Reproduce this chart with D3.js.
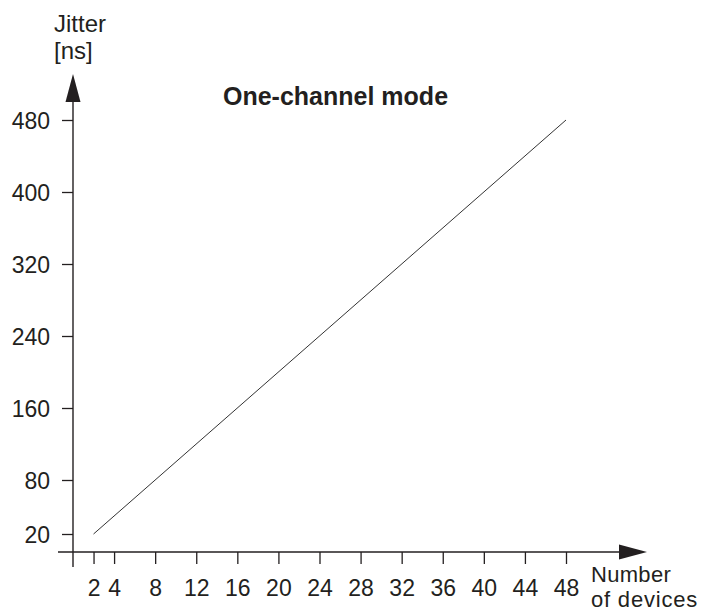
<!DOCTYPE html>
<html>
<head>
<meta charset="utf-8">
<script src="https://cdn.jsdelivr.net/npm/d3@7"></script>
<style>
  html, body { margin: 0; padding: 0; background: #fff; }
  svg { display: block; font-family: "Liberation Sans", Arial, Helvetica, sans-serif; }
</style>
</head>
<body>
<svg id="chart" width="710" height="615"></svg>
<script>
// ---- data ----
const devices = [2, 48];
const jitter = [20, 480];
const xTicks = [2, 4, 8, 12, 16, 20, 24, 28, 32, 36, 40, 44, 48];
const yTicks = [20, 80, 160, 240, 320, 400, 480];
const title = "One-channel mode";
const yLabel = ["Jitter", "[ns]"];
const xLabel = ["Number", "of devices"];

// ---- layout ----
const svg = d3.select("#chart");
const ink = "#231f20";
const fs = 23;

const x = d3.scaleLinear().domain([0, 48]).range([73, 566]);
const y = d3.scaleLinear().domain([0, 480]).range([552, 120]);

// y axis
const yAxis = d3.axisLeft(y).tickValues(yTicks).tickSize(11).tickPadding(12);
const gy = svg.append("g").attr("transform", `translate(${x(0)},0)`).call(yAxis);
gy.select(".domain").remove();
gy.selectAll("line").attr("stroke", ink).attr("stroke-width", 1.3);
gy.selectAll("text").attr("fill", ink).style("font-size", fs + "px")
  .style("font-family", "Liberation Sans, Arial, sans-serif").attr("dy", "0.36em");

// x axis
const xAxis = d3.axisBottom(x).tickValues(xTicks).tickSize(12).tickPadding(16);
const gx = svg.append("g").attr("transform", `translate(0,${y(0)})`).call(xAxis);
gx.select(".domain").remove();
gx.selectAll("line").attr("stroke", ink).attr("stroke-width", 1.3);
gx.selectAll("text").attr("fill", ink).style("font-size", fs + "px")
  .style("font-family", "Liberation Sans, Arial, sans-serif").attr("dy", "0.71em");

// axis lines
svg.append("line")
  .attr("x1", x(0)).attr("x2", x(0))
  .attr("y1", y(0) + 15).attr("y2", 100)
  .attr("stroke", ink).attr("stroke-width", 1.4);
svg.append("line")
  .attr("x1", 58).attr("x2", 622)
  .attr("y1", y(0)).attr("y2", y(0))
  .attr("stroke", ink).attr("stroke-width", 1.4);

// arrow heads
const ax = x(0);
svg.append("path")
  .attr("d", `M${ax},74 L${ax + 7.5},102 L${ax - 7.5},102 Z`)
  .attr("fill", ink);
const ay = y(0);
svg.append("path")
  .attr("d", `M647,${ay} L619,${ay - 7.5} L619,${ay + 7.5} Z`)
  .attr("fill", ink);

// data line
const pts = devices.map((d, i) => [d, jitter[i]]);
svg.append("path")
  .datum(pts)
  .attr("d", d3.line().x(d => x(d[0])).y(d => y(d[1])))
  .attr("fill", "none").attr("stroke", "#333").attr("stroke-width", 1);

// title
svg.append("text")
  .attr("x", 223).attr("y", 105)
  .attr("fill", ink)
  .style("font-size", "25px").style("font-weight", "bold")
  .text(title);

// y label
svg.append("text")
  .attr("x", 54).attr("y", 32)
  .attr("fill", ink).style("font-size", "24px")
  .selectAll("tspan").data(yLabel).join("tspan")
  .attr("x", 54).attr("dy", (d, i) => i === 0 ? 0 : 27)
  .text(d => d);

// x label (two separate lines)
svg.selectAll("text.xlab").data(xLabel).join("text")
  .attr("class", "xlab")
  .attr("x", 591).attr("y", (d, i) => 582 + i * 25)
  .attr("fill", ink).style("font-size", "22px")
  .attr("letter-spacing", (d, i) => i === 0 ? 0.3 : 0.8)
  .text(d => d);
</script>
</body>
</html>
